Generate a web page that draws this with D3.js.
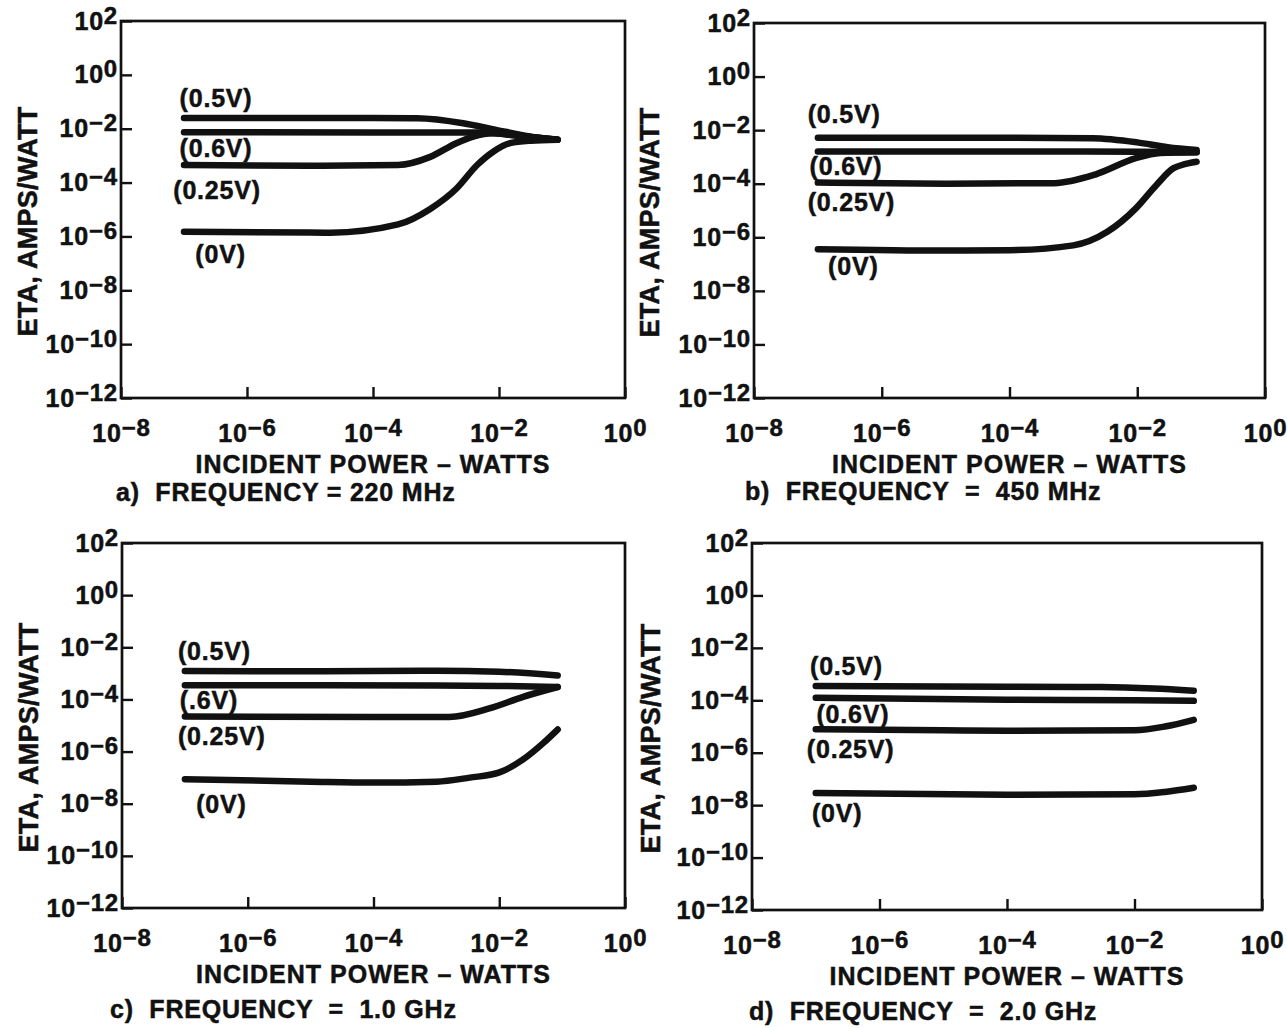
<!DOCTYPE html>
<html>
<head>
<meta charset="utf-8">
<script src="https://cdn.jsdelivr.net/npm/d3@7"></script>
<style>
  body { margin: 0; background: #fff; }
  text { font-family: "Liberation Sans", Arial, Helvetica, sans-serif; font-weight: bold; fill: #111; stroke: #111; stroke-width: 0.5; }
</style>
</head>
<body>
<svg id="chart" width="1287" height="1028"></svg>
<script>
// ---- data (power in watts, eta in amps/watt) ----
const seriesNames = ["(0.5V)", "(0.6V)", "(0.25V)", "(0V)"];
const seriesNamesC = ["(0.5V)", "(.6V)", "(0.25V)", "(0V)"];

// a) 220 MHz
const f220_05 = [[1e-7, 2.5e-2], [1e-4, 2.5e-2], [5e-4, 2.45e-2], [2.7e-3, 1.6e-2], [9e-3, 9.1e-3], [3.2e-2, 5.1e-3], [8.5e-2, 3.9e-3]];
const f220_06 = [[1e-7, 7.4e-3], [1e-4, 7.3e-3], [5e-3, 7.2e-3], [2e-2, 5.5e-3], [8.5e-2, 3.9e-3]];
const f220_025 = [[1e-7, 4.5e-4], [1e-5, 4.2e-4], [2.5e-4, 4.5e-4], [8.1e-4, 9e-4], [2.1e-3, 2.9e-3], [3.9e-3, 5.1e-3], [8e-3, 6.8e-3], [2e-2, 5.5e-3], [8.5e-2, 3.9e-3]];
const f220_0 = [[1e-7, 1.5e-6], [1e-5, 1.4e-6], [2.1e-5, 1.38e-6], [2.5e-4, 2.8e-6], [8.1e-4, 1.05e-5], [2.1e-3, 5.9e-5], [4.5e-3, 4.5e-4], [8.1e-3, 1.4e-3], [1.5e-2, 2.9e-3], [3.2e-2, 3.6e-3], [8.5e-2, 3.9e-3]];

// b) 450 MHz
const f450_05 = [[1e-7, 5.2e-3], [1e-4, 5.2e-3], [2e-3, 5.0e-3], [1e-2, 3.5e-3], [3e-2, 2.3e-3], [8.5e-2, 1.8e-3]];
const f450_06 = [[1e-7, 1.6e-3], [1e-3, 1.6e-3], [1e-2, 1.55e-3], [8.5e-2, 1.5e-3]];
const f450_025 = [[1e-7, 1.1e-4], [1e-5, 1.0e-4], [5e-4, 1.05e-4], [2.2e-3, 2.2e-4], [9.5e-3, 9e-4], [2.3e-2, 1.4e-3], [8.5e-2, 1.5e-3]];
const f450_0 = [[1e-7, 3.6e-7], [1e-5, 3.2e-7], [1e-4, 3.3e-7], [1e-3, 5e-7], [3.4e-3, 1.6e-6], [9.5e-3, 1.2e-5], [2e-2, 9e-5], [3.7e-2, 3.8e-4], [5e-2, 5e-4], [8.5e-2, 6.6e-4]];

// c) 1.0 GHz
const f1000_05 = [[1e-7, 1.23e-3], [1e-5, 1.2e-3], [1e-3, 1.25e-3], [1e-2, 1.15e-3], [8.5e-2, 8.3e-4]];
const f1000_06 = [[1e-7, 3.5e-4], [1e-3, 3.4e-4], [1e-2, 3.3e-4], [8.5e-2, 3.0e-4]];
const f1000_025 = [[1e-7, 2.2e-5], [1e-4, 2.1e-5], [1.6e-3, 2.1e-5], [7.2e-3, 4.6e-5], [2.4e-2, 1.26e-4], [8.5e-2, 3.0e-4]];
const f1000_0 = [[1e-7, 8.7e-8], [1e-5, 7e-8], [1e-4, 6.5e-8], [1e-3, 7e-8], [3.4e-3, 1e-7], [9.8e-3, 1.55e-7], [2.4e-2, 5e-7], [5e-2, 2.1e-6], [8.5e-2, 7e-6]];

// d) 2.0 GHz
const f2000_05 = [[1e-7, 3.5e-4], [1e-4, 3.3e-4], [3e-3, 3.2e-4], [2e-2, 2.8e-4], [8.5e-2, 2.3e-4]];
const f2000_06 = [[1e-7, 1.25e-4], [1e-4, 1.05e-4], [1e-2, 1.0e-4], [8.5e-2, 9.5e-5]];
const f2000_025 = [[1e-7, 7.9e-6], [1e-5, 7.2e-6], [1e-4, 6.9e-6], [1e-2, 7.2e-6], [3e-2, 1.0e-5], [8.5e-2, 1.8e-5]];
const f2000_0 = [[1e-7, 2.9e-8], [1e-4, 2.5e-8], [1e-2, 2.6e-8], [3e-2, 3.2e-8], [8.5e-2, 4.6e-8]];

// curve label anchors, log10(power), log10(eta)
const labels220 = [[-7.07, -0.86], [-7.07, -2.73], [-7.17, -4.29], [-6.82, -6.67]];
const labels450 = [[-7.16, -1.39], [-7.13, -3.35], [-7.16, -4.70], [-6.84, -7.09]];
const labels1000 = [[-7.11, -2.13], [-7.08, -4.03], [-7.11, -5.42], [-6.82, -8.01]];
const labels2000 = [[-7.09, -2.69], [-6.99, -4.52], [-7.14, -5.87], [-7.06, -8.31]];

const captions = ["a)  FREQUENCY = 220 MHz", "b)  FREQUENCY  =  450 MHz", "c)  FREQUENCY  =  1.0 GHz", "d)  FREQUENCY  =  2.0 GHz"];

const xTicks = [1e-8, 1e-6, 1e-4, 1e-2, 1e0];
const xExp = ["\u22128", "\u22126", "\u22124", "\u22122", "0"];
const yTicks = [1e2, 1e0, 1e-2, 1e-4, 1e-6, 1e-8, 1e-10, 1e-12];
const yExp = ["2", "0", "\u22122", "\u22124", "\u22126", "\u22128", "\u221210", "\u221212"];

const yTitle = "ETA, AMPS/WATT";
const xTitle = "INCIDENT POWER \u2013 WATTS";

// ---- layout ----
const panels = [
    { frame: { left: 121, top: 21, right: 625, bottom: 398 }, etaDx: 84, cap: [116, 501], series: [f220_05, f220_06, f220_025, f220_0], labels: labels220, names: seriesNames },
    { frame: { left: 754, top: 23, right: 1265, bottom: 398 }, etaDx: 95, cap: [745, 500], series: [f450_05, f450_06, f450_025, f450_0], labels: labels450, names: seriesNames },
    { frame: { left: 122, top: 543, right: 625, bottom: 908 }, etaDx: 84, cap: [110, 1018], series: [f1000_05, f1000_06, f1000_025, f1000_0], labels: labels1000, names: seriesNamesC },
    { frame: { left: 752, top: 543, right: 1262, bottom: 910 }, etaDx: 92, cap: [749, 1020], series: [f2000_05, f2000_06, f2000_025, f2000_0], labels: labels2000, names: seriesNames }
];

const svg = d3.select("#chart");
svg.append("rect").attr("width", 1287).attr("height", 1028).attr("fill", "#fff");

function powerLabel(sel, exps) {
    sel.each(function (d, i) {
        const t = d3.select(this).text(null);
        t.append("tspan").text("10");
        t.append("tspan").attr("dy", -6).attr("font-size", 24).text(exps[i]);
    });
}

panels.forEach((p, k) => {
    const f = p.frame;
    const x = d3.scaleLog().domain([1e-8, 1]).range([f.left, f.right]);
    const y = d3.scaleLog().domain([1e-12, 1e2]).range([f.bottom, f.top]);
    const g = svg.append("g");

    // y axis (ticks inward)
    const ya = g.append("g")
        .attr("transform", `translate(${f.left},0)`)
        .call(d3.axisLeft(y).tickValues(yTicks).tickSize(-11).tickSizeOuter(0).tickPadding(3).tickFormat(""));
    ya.select(".domain").remove();
    ya.selectAll(".tick line").attr("stroke", "#111").attr("stroke-width", 2.4);
    ya.selectAll(".tick text")
        .attr("font-size", 25).attr("fill", "#111").attr("letter-spacing", 0.8)
        .call(powerLabel, yExp);

    // x axis (ticks inward)
    const xa = g.append("g")
        .attr("transform", `translate(0,${f.bottom})`)
        .call(d3.axisBottom(x).tickValues(xTicks).tickSize(-11).tickSizeOuter(0).tickPadding(26).tickFormat(""));
    xa.select(".domain").remove();
    xa.selectAll(".tick line").attr("stroke", "#111").attr("stroke-width", 2.4);
    xa.selectAll(".tick text")
        .attr("font-size", 25).attr("fill", "#111").attr("letter-spacing", 0.8)
        .call(powerLabel, xExp);

    // frame
    g.append("rect")
        .attr("x", f.left).attr("y", f.top)
        .attr("width", f.right - f.left).attr("height", f.bottom - f.top)
        .attr("fill", "none").attr("stroke", "#111").attr("stroke-width", 2.7);

    // curves
    const line = d3.line()
        .x(d => x(d[0]))
        .y(d => y(d[1]))
        .curve(d3.curveMonotoneX);

    g.selectAll(".curve")
        .data(p.series)
        .join("path")
        .attr("class", "curve")
        .attr("fill", "none")
        .attr("stroke", "#111")
        .attr("stroke-width", 6.5)
        .attr("stroke-linecap", "round")
        .attr("stroke-linejoin", "round")
        .attr("d", line);

    // curve labels
    g.selectAll(".clabel")
        .data(p.labels)
        .join("text")
        .attr("class", "clabel")
        .attr("x", d => x(Math.pow(10, d[0])))
        .attr("y", d => y(Math.pow(10, d[1])))
        .attr("dy", "0.36em")
        .attr("font-size", 25)
        .attr("letter-spacing", 0.8)
        .text((d, i) => p.names[i]);

    // axis titles
    g.append("text")
        .attr("transform", `translate(${f.left - p.etaDx},${(f.top + f.bottom) / 2 + 12}) rotate(-90)`)
        .attr("text-anchor", "middle")
        .attr("font-size", 27)
        .attr("letter-spacing", 0.3)
        .text(yTitle);

    g.append("text")
        .attr("x", (f.left + f.right) / 2)
        .attr("y", f.bottom + 75)
        .attr("text-anchor", "middle")
        .attr("font-size", 25)
        .attr("letter-spacing", 1)
        .text(xTitle);

    g.append("text")
        .attr("x", p.cap[0])
        .attr("y", p.cap[1])
        .attr("font-size", 25)
        .attr("letter-spacing", 0.8)
        .style("white-space", "pre")
        .text(captions[k]);
});
</script>
</body>
</html>
